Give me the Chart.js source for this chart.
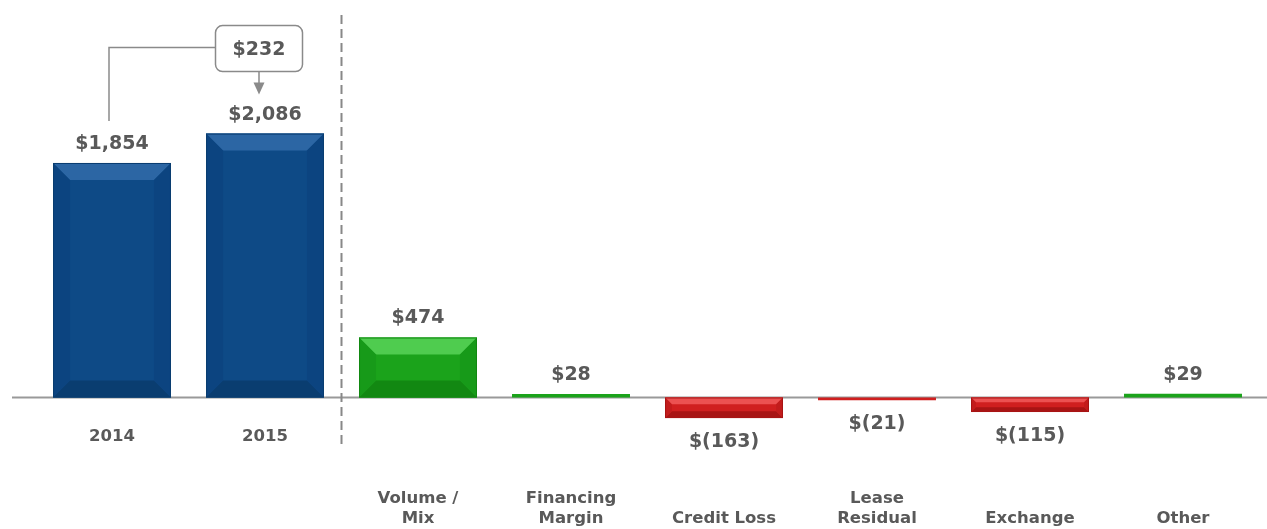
<!DOCTYPE html>
<html>
<head>
<meta charset="utf-8">
<script src="https://cdn.jsdelivr.net/npm/chart.js@4"></script>
<style>
html,body{margin:0;padding:0;background:#fff}
#wrap{width:1267px;height:529px;position:relative}
</style>
</head>
<body>
<div id="wrap"><canvas id="grafico"></canvas></div>
<script>
// dados
// 2014 and 2015 sit right under the axis, the drivers lower down
const rotulos=[["2014"],["2015"],["","","","Volume /","Mix"],["","","","Financing","Margin"],["","","","","Credit Loss"],["","","","Lease","Residual"],["","","","","Exchange"],["","","","","Other"]]
const valores=[1854,2086,474,28,-163,-21,-115,29]
const textos=["$1,854","$2,086","$474","$28","$(163)","$(21)","$(115)","$29"]
const diferenca="$232"
const tipos=["total","total","up","up","down","down","down","up"]

const cores={
total:{base:"#0e4a86",top:"#2c66a4",side:"#0c4480",bottom:"#0a3d70"},
up:{base:"#1ba31b",top:"#4fcc4f",side:"#179a19",bottom:"#128812"},
down:{base:"#d01f1f",top:"#ec5151",side:"#c21c1c",bottom:"#a81414"}
}

const cinza="#595959"
const fonteDados="bold 19px 'DejaVu Sans'"

// bevel nas barras
const bevel={
id:"bevel",
afterDatasetsDraw(chart){
const ctx=chart.ctx
const meta=chart.getDatasetMeta(0)
meta.data.forEach((bar,i)=>{
const c=cores[tipos[i]]
const l=bar.x-bar.width/2, r=bar.x+bar.width/2
const t=Math.min(bar.y,bar.base), b=Math.max(bar.y,bar.base)
const h=b-t
if(h<6) return
const d=Math.min(17,h*0.33)
ctx.save()
ctx.fillStyle=c.top
ctx.beginPath();ctx.moveTo(l,t);ctx.lineTo(r,t);ctx.lineTo(r-d,t+d);ctx.lineTo(l+d,t+d);ctx.closePath();ctx.fill()
ctx.fillStyle=c.bottom
ctx.beginPath();ctx.moveTo(l,b);ctx.lineTo(r,b);ctx.lineTo(r-d,b-d);ctx.lineTo(l+d,b-d);ctx.closePath();ctx.fill()
ctx.fillStyle=c.side
ctx.beginPath();ctx.moveTo(l,t);ctx.lineTo(l+d,t+d);ctx.lineTo(l+d,b-d);ctx.lineTo(l,b);ctx.closePath();ctx.fill()
ctx.beginPath();ctx.moveTo(r,t);ctx.lineTo(r-d,t+d);ctx.lineTo(r-d,b-d);ctx.lineTo(r,b);ctx.closePath();ctx.fill()
ctx.strokeStyle=c.bottom
ctx.lineWidth=1
ctx.strokeRect(l+0.5,t+0.5,r-l-1,h-1)
ctx.restore()
})
}
}

// linha do zero, separador, rotulos e anotacao
const extras={
id:"extras",
beforeDatasetsDraw(chart){
const ctx=chart.ctx
const y0=chart.scales.y.getPixelForValue(0)
ctx.save()
ctx.strokeStyle="#999"
ctx.lineWidth=2
ctx.beginPath();ctx.moveTo(12,y0);ctx.lineTo(chart.width,y0);ctx.stroke()
ctx.restore()
},
afterDatasetsDraw(chart){
const ctx=chart.ctx
const meta=chart.getDatasetMeta(0)
ctx.save()
// separador tracejado
const xsep=(meta.data[1].x+meta.data[2].x)/2
ctx.strokeStyle="#888"
ctx.lineWidth=2
ctx.setLineDash([9,5])
ctx.beginPath();ctx.moveTo(xsep,15);ctx.lineTo(xsep,445);ctx.stroke()
ctx.setLineDash([])

// rotulos de dados
ctx.font=fonteDados
ctx.fillStyle=cinza
ctx.textAlign="center"
ctx.textBaseline="middle"
meta.data.forEach((bar,i)=>{
if(valores[i]>=0) ctx.fillText(textos[i],bar.x,bar.y-19)
else ctx.fillText(textos[i],bar.x,bar.y+24)
})

// anotacao da diferenca
const b1=meta.data[0], b2=meta.data[1]
const cx=b2.x-6
const bw=87, bh=46
const by=b2.y-108
const bx=cx-bw/2
ctx.strokeStyle="#8a8a8a"
ctx.lineWidth=1.5
ctx.beginPath()
ctx.roundRect(bx,by,bw,bh,7)
ctx.stroke()
ctx.fillStyle=cinza
ctx.fillText(diferenca,cx,by+bh/2+1)
// conector
ctx.beginPath()
ctx.moveTo(bx,by+22);ctx.lineTo(b1.x-3,by+22);ctx.lineTo(b1.x-3,b1.y-42)
ctx.stroke()
// seta
ctx.beginPath();ctx.moveTo(cx,by+bh);ctx.lineTo(cx,by+bh+12);ctx.stroke()
ctx.fillStyle="#8a8a8a"
ctx.beginPath();ctx.moveTo(cx-5.5,by+bh+11);ctx.lineTo(cx+5.5,by+bh+11);ctx.lineTo(cx,by+bh+23);ctx.closePath();ctx.fill()
ctx.restore()
}
}

let grafico

function gerarGrafico(){
const canvas=document.getElementById("grafico")
if(typeof Chart==="undefined") return

grafico=new Chart(canvas,{
type:"bar",
data:{
labels:rotulos,
datasets:[{
data:valores,
backgroundColor:tipos.map(t=>cores[t].base),
borderWidth:0,
barPercentage:0.771,
categoryPercentage:1
}]
},
options:{
responsive:true,
maintainAspectRatio:false,
animation:false,
layout:{padding:{left:35.5,right:7.5,top:18,bottom:0}},
plugins:{legend:{display:false},tooltip:{enabled:false}},
scales:{
x:{
grid:{display:false,drawTicks:false},
border:{display:false},
ticks:{
color:cinza,
padding:0,
maxRotation:0,
autoSkip:false,
font:{family:"'DejaVu Sans'",size:16.5,weight:"bold",lineHeight:1.24}
}
},
y:{
display:false,
min:-231,
max:3000
}
}
},
plugins:[extras,bevel]
})
}

window.addEventListener("load",gerarGrafico)
</script>
</body>
</html>
